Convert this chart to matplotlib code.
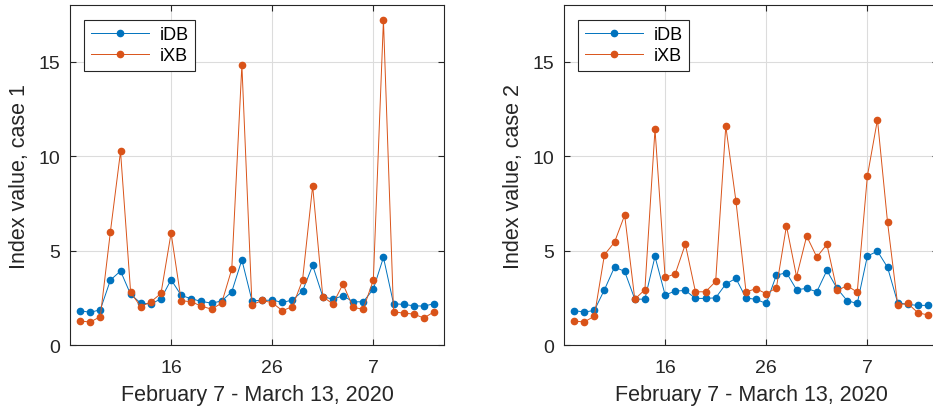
import matplotlib
matplotlib.use('Agg')
import matplotlib.pyplot as plt

plt.rcParams['font.family'] = ['Liberation Sans', 'DejaVu Sans']

# days from February 7 to March 13, 2020 (36 days)
day_index = list(range(36))
tick_pos = [9, 19, 29]
tick_labels = ['16', '26', '7']

# case 1
idb_case1 = [1.82, 1.73, 1.87, 3.44, 3.92, 2.68, 2.22, 2.17, 2.45, 3.46,
             2.63, 2.45, 2.31, 2.22, 2.33, 2.82, 4.51, 2.35, 2.36, 2.38,
             2.26, 2.38, 2.86, 4.22, 2.56, 2.43, 2.61, 2.29, 2.29, 2.96,
             4.64, 2.19, 2.15, 2.08, 2.06, 2.19]
ixb_case1 = [1.27, 1.22, 1.50, 6.01, 10.25, 2.79, 2.03, 2.29, 2.73, 5.93,
             2.35, 2.29, 2.06, 1.90, 2.22, 4.02, 14.83, 2.13, 2.36, 2.24,
             1.82, 2.03, 3.44, 8.43, 2.57, 2.17, 3.23, 1.99, 1.90, 3.44,
             17.21, 1.76, 1.69, 1.64, 1.43, 1.76]

# case 2
idb_case2 = [1.82, 1.75, 1.83, 2.93, 4.13, 3.90, 2.43, 2.43, 4.69, 2.65,
             2.86, 2.89, 2.47, 2.47, 2.50, 3.23, 3.53, 2.49, 2.42, 2.20,
             3.70, 3.83, 2.93, 3.00, 2.82, 3.95, 3.00, 2.35, 2.20, 4.71,
             4.97, 4.11, 2.24, 2.15, 2.10, 2.10]
ixb_case2 = [1.27, 1.22, 1.53, 4.78, 5.45, 6.88, 2.43, 2.93, 11.43, 3.58,
             3.77, 5.34, 2.82, 2.82, 3.37, 11.60, 7.64, 2.82, 2.98, 2.72,
             3.02, 6.31, 3.62, 5.77, 4.66, 5.33, 2.89, 3.14, 2.80, 8.94,
             11.94, 6.49, 2.13, 2.20, 1.71, 1.59]

blue = '#0072BD'
orange = '#D95319'

fig = plt.figure(figsize=(9.33, 4.10), dpi=100)
ax1 = fig.add_axes([0.075, 0.156, 0.401, 0.829])
ax2 = fig.add_axes([0.6045, 0.156, 0.401, 0.829])

panels = [(ax1, idb_case1, ixb_case1, 'Index value, case 1'),
          (ax2, idb_case2, ixb_case2, 'Index value, case 2')]

for ax, idb, ixb, ylab in panels:
    ax.plot(day_index, idb, '-o', color=blue, lw=0.7, ms=4.5, label='iDB')
    ax.plot(day_index, ixb, '-o', color=orange, lw=0.7, ms=4.5, label='iXB')
    ax.set_xlim(-1, 36)
    ax.set_ylim(0, 18)
    ax.set_yticks([0, 5, 10, 15])
    ax.set_xticks(tick_pos)
    ax.set_xticklabels(tick_labels)
    ax.grid(True, color='#dcdcdc', lw=0.8)
    ax.set_axisbelow(True)
    ax.tick_params(direction='in', length=4, width=0.8, labelsize=14,
                   colors='#262626', top=True, right=True)
    ax.tick_params(axis='x', pad=10)
    ax.tick_params(axis='y', pad=7)
    for s in ax.spines.values():
        s.set_color('#262626')
        s.set_linewidth(0.8)
    ax.set_xlabel('February 7 - March 13, 2020', fontsize=15.5,
                  color='#262626', labelpad=6)
    ax.set_ylabel(ylab, fontsize=15.5, color='#262626', labelpad=6)
    leg = ax.legend(loc='upper left', fontsize=13, handlelength=3.2,
                    fancybox=False, edgecolor='#262626', framealpha=1,
                    borderaxespad=0.8, labelspacing=0.25, borderpad=0.35,
                    handletextpad=0.6)
    leg.get_frame().set_linewidth(0.8)

fig.savefig('out.png', dpi=100)
